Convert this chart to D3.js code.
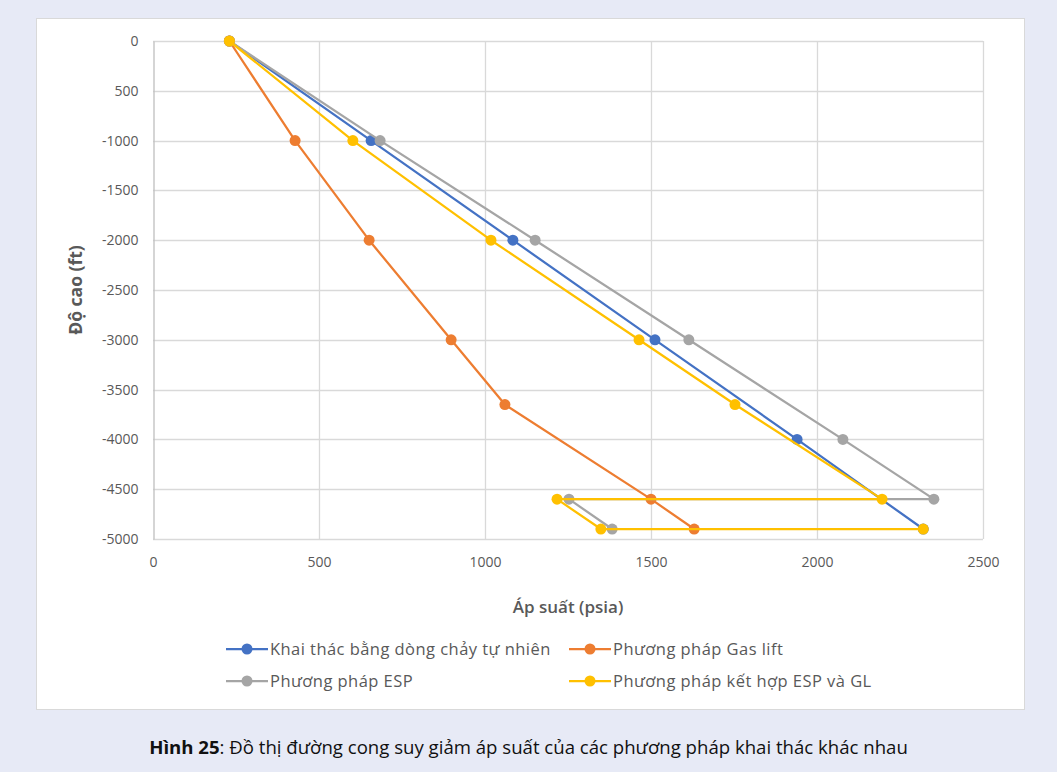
<!DOCTYPE html>
<html>
<head>
<meta charset="utf-8">
<script src="https://cdn.jsdelivr.net/npm/d3@7/dist/d3.min.js"></script>
<style>
  html, body { margin: 0; padding: 0; background: #e7eaf6; }
  svg { display: block; }
</style>
</head>
<body>
<svg id="chart" width="1057" height="772"></svg>
<script>
// Pressure traverse data: pressure (psia) vs. depth (ft)
const seriesNames = [
  "Khai thác bằng dòng chảy tự nhiên",
  "Phương pháp Gas lift",
  "Phương pháp ESP",
  "Phương pháp kết hợp ESP và GL"
];
const seriesColors = ["#4472c4", "#ed7d31", "#a5a5a5", "#ffc000"];

const naturalPressure = [230, 657, 1084, 1512, 1940, 2320];
const naturalDepth    = [0, -1000, -2000, -3000, -4000, -4900];

const gasLiftPressure = [230, 428, 651, 898, 1060, 1500, 1630];
const gasLiftDepth    = [0, -1000, -2000, -3000, -3650, -4600, -4900];

const espPressure = [230, 684, 1151, 1614, 2078, 2352, 1253, 1383];
const espDepth    = [0, -1000, -2000, -3000, -4000, -4600, -4600, -4900];

const comboPressure = [230, 602, 1018, 1464, 1753, 2196, 1217, 1349, 2320];
const comboDepth    = [0, -1000, -2000, -3000, -3650, -4600, -4600, -4900, -4900];

const xTicks = [0, 500, 1000, 1500, 2000, 2500];
const xTickLabels = ["0", "500", "1000", "1500", "2000", "2500"];
const yTicks = [0, -500, -1000, -1500, -2000, -2500, -3000, -3500, -4000, -4500, -5000];
const yTickLabels = ["0", "500", "-1000", "-1500", "-2000", "-2500", "-3000", "-3500", "-4000", "-4500", "-5000"];

const xTitle = "Áp suất (psia)";
const yTitle = "Độ cao (ft)";
const captionBold = "Hình 25";
const captionRest = ": Đồ thị đường cong suy giảm áp suất của các phương pháp khai thác khác nhau";

const series = [
  { name: seriesNames[0], color: seriesColors[0], p: naturalPressure, d: naturalDepth },
  { name: seriesNames[1], color: seriesColors[1], p: gasLiftPressure, d: gasLiftDepth },
  { name: seriesNames[2], color: seriesColors[2], p: espPressure, d: espDepth },
  { name: seriesNames[3], color: seriesColors[3], p: comboPressure, d: comboDepth }
].map(s => ({ ...s, pts: s.p.map((v, i) => ({ x: v, y: s.d[i] })) }));

const svg = d3.select("#chart");
const font = "'Open Sans', 'Noto Sans', sans-serif";
const textGray = "#595959";

// chart panel
svg.append("rect")
  .attr("x", 36.5).attr("y", 18.5).attr("width", 988).attr("height", 691)
  .attr("fill", "#ffffff").attr("stroke", "#d9d9d9").attr("stroke-width", 1);

const x = d3.scaleLinear().domain([0, 2500]).range([153, 983]);
const y = d3.scaleLinear().domain([0, -5000]).range([41, 539]);

// gridlines
const grid = svg.append("g");
grid.selectAll("line.h").data(yTicks).join("line")
  .attr("x1", x(0)).attr("x2", x(2500))
  .attr("y1", d => Math.round(y(d)) + 0.5).attr("y2", d => Math.round(y(d)) + 0.5)
  .attr("stroke", "#d9d9d9").attr("stroke-width", 1.3);
grid.selectAll("line.v").data(xTicks.slice(1)).join("line")
  .attr("y1", y(0)).attr("y2", y(-5000))
  .attr("x1", d => Math.round(x(d)) + 0.5).attr("x2", d => Math.round(x(d)) + 0.5)
  .attr("stroke", "#d9d9d9").attr("stroke-width", 1.3);

// axes
const yAxis = d3.axisLeft(y).tickValues(yTicks)
  .tickFormat((d, i) => yTickLabels[i]).tickSize(0).tickPadding(15);
const gy = svg.append("g").attr("transform", `translate(${Math.round(x(0)) + 0.5},0)`).call(yAxis);
gy.select(".domain").attr("stroke", "#bfbfbf").attr("stroke-width", 1.3);
gy.selectAll("text").attr("fill", textGray).style("font", `14px ${font}`);

const xAxis = d3.axisBottom(x).tickValues(xTicks)
  .tickFormat((d, i) => xTickLabels[i]).tickSize(0).tickPadding(18);
const gx = svg.append("g").attr("transform", `translate(0,${y(-5000)})`).call(xAxis);
gx.select(".domain").remove();
gx.selectAll("text").attr("fill", textGray).style("font", `14px ${font}`);

// axis titles
svg.append("text")
  .attr("transform", `translate(82,${y(-2500)}) rotate(-90)`)
  .attr("text-anchor", "middle")
  .attr("fill", textGray).style("font", `bold 17.5px ${font}`)
  .text(yTitle);
svg.append("text")
  .attr("x", 568).attr("y", 613)
  .attr("text-anchor", "middle")
  .attr("fill", textGray).style("font", `600 17px ${font}`)
  .text(xTitle);

// series lines and markers
const line = d3.line().x(d => x(d.x)).y(d => y(d.y));
const plot = svg.append("g");
series.forEach(s => {
  const g = plot.append("g");
  g.append("path").datum(s.pts)
    .attr("d", line).attr("fill", "none")
    .attr("stroke", s.color).attr("stroke-width", 2.25)
    .attr("stroke-linejoin", "round");
  g.selectAll("circle").data(s.pts).join("circle")
    .attr("cx", d => x(d.x)).attr("cy", d => y(d.y)).attr("r", 5.5)
    .attr("fill", s.color);
});

// legend
const legendPos = [[226, 649], [569, 649], [226, 681], [569, 681]];
series.forEach((s, i) => {
  const [lx, ly] = legendPos[i];
  const g = svg.append("g").attr("transform", `translate(${lx},${ly})`);
  g.append("line").attr("x1", 0).attr("x2", 42).attr("y1", 0).attr("y2", 0)
    .attr("stroke", s.color).attr("stroke-width", 2.25);
  g.append("circle").attr("cx", 21).attr("cy", 0).attr("r", 5.5).attr("fill", s.color);
  g.append("text").attr("x", 44).attr("y", 6)
    .attr("fill", textGray).style("font", `16.5px ${font}`)
    .attr("letter-spacing", "0.45px")
    .text(s.name);
});

// caption
const cap = svg.append("text")
  .attr("x", 528.5).attr("y", 754).attr("text-anchor", "middle")
  .attr("fill", "#111111").style("font", `18.6px ${font}`);
cap.append("tspan").attr("font-weight", "bold").text(captionBold);
cap.append("tspan").text(captionRest);
</script>
</body>
</html>
